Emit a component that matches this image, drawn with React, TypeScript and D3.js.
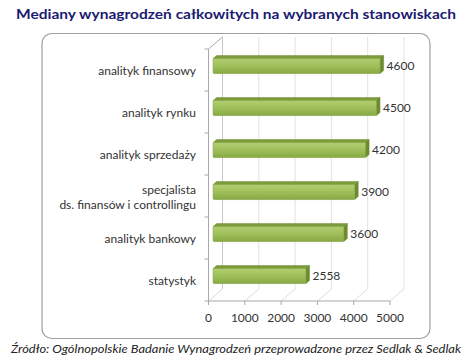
import * as d3 from 'd3';
import { useEffect, useRef } from "react";

const categories = [
    'analityk finansowy',
    'analityk rynku',
    'analityk sprzedaży',
    'specjalista\nds. finansów i controllingu',
    'analityk bankowy',
    'statystyk',
];
const values = [4600, 4500, 4200, 3900, 3600, 2558];
const xTicks = [0, 1000, 2000, 3000, 4000, 5000];

const TITLE = 'Mediany wynagrodzeń całkowitych na wybranych stanowiskach';
const SOURCE = 'Źródło: Ogólnopolskie Badanie Wynagrodzeń przeprowadzone przez Sedlak & Sedlak';

const W = 472;
const H = 363;
const DX = 14; // depth of the 3d box
const DY = -12;
const FONT = 'Lato, "Open Sans", sans-serif';

export default function App() {
    const ref = useRef<SVGSVGElement>(null);
    useEffect(() => {
        if (!ref.current) return;
        const svg = d3.select(ref.current);
        svg.selectAll("*").remove();

        const x = d3.scaleLinear().domain([0, 5000]).range([208.5, 390]);
        const y = d3.scaleBand<string>().domain(categories).range([49, 301]).padding(0);

        const defs = svg.append('defs');
        const grad = defs.append('linearGradient')
            .attr('id', 'barFront').attr('x1', 0).attr('y1', 0).attr('x2', 0).attr('y2', 1);
        grad.append('stop').attr('offset', '0%').attr('stop-color', '#b3cf72');
        grad.append('stop').attr('offset', '55%').attr('stop-color', '#9dbd58');
        grad.append('stop').attr('offset', '100%').attr('stop-color', '#87a842');

        // title
        svg.append('text')
            .attr('x', 236).attr('y', 19)
            .attr('text-anchor', 'middle')
            .attr('font-family', FONT)
            .attr('font-weight', 'bold')
            .attr('font-size', 14)
            .attr('fill', '#1b1b72')
            .attr('textLength', 440)
            .attr('lengthAdjust', 'spacingAndGlyphs')
            .text(TITLE);

        // frame
        svg.append('rect')
            .attr('x', 42).attr('y', 33.5)
            .attr('width', 388).attr('height', 305)
            .attr('rx', 10).attr('ry', 10)
            .attr('fill', 'white')
            .attr('stroke', '#a0a0a0')
            .attr('stroke-width', 1.2);

        const [top, bottom] = y.range();
        const g = svg.append('g');

        // back wall gridlines
        g.selectAll('.grid')
            .data(xTicks.slice(1))
            .enter()
            .append('line')
            .attr('x1', d => x(d) + DX).attr('x2', d => x(d) + DX)
            .attr('y1', top + DY).attr('y2', bottom + DY)
            .attr('stroke', '#e2e2e2');

        // floor diagonals
        g.selectAll('.floor')
            .data(xTicks)
            .enter()
            .append('line')
            .attr('x1', d => x(d)).attr('y1', bottom)
            .attr('x2', d => x(d) + DX).attr('y2', bottom + DY)
            .attr('stroke', '#dcdcdc');

        // side wall
        g.append('line')
            .attr('x1', x(0) + DX).attr('x2', x(0) + DX)
            .attr('y1', top + DY).attr('y2', bottom + DY)
            .attr('stroke', '#c8c8c8');
        g.append('line')
            .attr('x1', x(0)).attr('y1', top)
            .attr('x2', x(0) + DX).attr('y2', top + DY)
            .attr('stroke', '#a8a8a8');

        // axes
        g.append('line')
            .attr('x1', x(0)).attr('x2', x(0))
            .attr('y1', top).attr('y2', bottom)
            .attr('stroke', '#a8a8a8');
        g.append('line')
            .attr('x1', x(0)).attr('x2', x(5000))
            .attr('y1', bottom).attr('y2', bottom)
            .attr('stroke', '#a8a8a8');

        const catTicks = categories.map(c => y(c)!).concat([bottom]);
        g.selectAll('.ytick')
            .data(catTicks)
            .enter()
            .append('line')
            .attr('x1', x(0) - 4).attr('x2', x(0))
            .attr('y1', d => d).attr('y2', d => d)
            .attr('stroke', '#a8a8a8');

        g.selectAll('.xtick')
            .data(xTicks)
            .enter()
            .append('line')
            .attr('x1', d => x(d)).attr('x2', d => x(d))
            .attr('y1', bottom).attr('y2', bottom + 4)
            .attr('stroke', '#a8a8a8');

        g.selectAll('.xlabel')
            .data(xTicks)
            .enter()
            .append('text')
            .attr('x', d => x(d))
            .attr('y', 318)
            .attr('dy', '0.35em')
            .attr('text-anchor', 'middle')
            .attr('font-family', FONT)
            .attr('font-size', 12)
            .attr('fill', '#333')
            .text(d => d);

        // category labels
        const labels = g.selectAll('.ylabel')
            .data(categories)
            .enter()
            .append('text')
            .attr('text-anchor', 'end')
            .attr('font-family', FONT)
            .attr('font-size', 12)
            .attr('fill', '#333');
        labels.each(function (d) {
            const lines = d.split('\n');
            const cy = y(d)! + y.bandwidth() / 2 + 1;
            d3.select(this).selectAll('tspan')
                .data(lines)
                .enter()
                .append('tspan')
                .attr('x', 196)
                .attr('y', (_, i) => cy + (i - (lines.length - 1) / 2) * 15)
                .attr('dy', '0.35em')
                .text(l => l);
        });

        // 3d bars
        const f0 = 0.33, f1 = 0.58;
        const ox0 = DX * f0, oy0 = DY * f0, ox1 = DX * f1, oy1 = DY * f1;
        const barTop = (c: string) => y(c)! + 13.5;
        const barBot = (c: string) => y(c)! + 28.5;
        const rows = categories.map((c, i) => ({ c, v: values[i] }));

        const bars = g.selectAll('.bar')
            .data(rows)
            .enter()
            .append('g');

        bars.append('path')
            .attr('d', d => {
                const a = x(0), b = x(d.v), t = barTop(d.c);
                return `M${a + ox0},${t + oy0}L${b + ox0},${t + oy0}L${b + ox1},${t + oy1}L${a + ox1},${t + oy1}Z`;
            })
            .attr('fill', '#7d9c3c')
            .attr('stroke', '#718f33')
            .attr('stroke-width', 0.5);

        bars.append('path')
            .attr('d', d => {
                const b = x(d.v), t = barTop(d.c), bt = barBot(d.c);
                return `M${b + ox0},${t + oy0}L${b + ox1},${t + oy1}L${b + ox1},${bt + oy1}L${b + ox0},${bt + oy0}Z`;
            })
            .attr('fill', '#6e8c2f')
            .attr('stroke', '#66842a')
            .attr('stroke-width', 0.5);

        bars.append('rect')
            .attr('x', x(0) + ox0)
            .attr('y', d => barTop(d.c) + oy0)
            .attr('width', d => x(d.v) - x(0))
            .attr('height', d => barBot(d.c) - barTop(d.c))
            .attr('rx', 1)
            .attr('fill', 'url(#barFront)')
            .attr('stroke', '#7f9f3d')
            .attr('stroke-width', 0.6);

        bars.append('text')
            .attr('x', d => x(d.v) + ox1 + 3)
            .attr('y', d => (barTop(d.c) + barBot(d.c)) / 2 + oy0)
            .attr('dy', '0.35em')
            .attr('font-family', FONT)
            .attr('font-size', 12)
            .attr('fill', '#333')
            .text(d => d.v);

        // source
        svg.append('text')
            .attr('x', 236).attr('y', 353)
            .attr('text-anchor', 'middle')
            .attr('font-family', FONT)
            .attr('font-style', 'italic')
            .attr('font-size', 12)
            .attr('fill', '#222')
            .attr('textLength', 450)
            .attr('lengthAdjust', 'spacingAndGlyphs')
            .text(SOURCE);
    }, []);

    return (
        <svg ref={ref} width={W} height={H} style={{ position: 'absolute', left: 0, top: 0 }}></svg>
    );
}
